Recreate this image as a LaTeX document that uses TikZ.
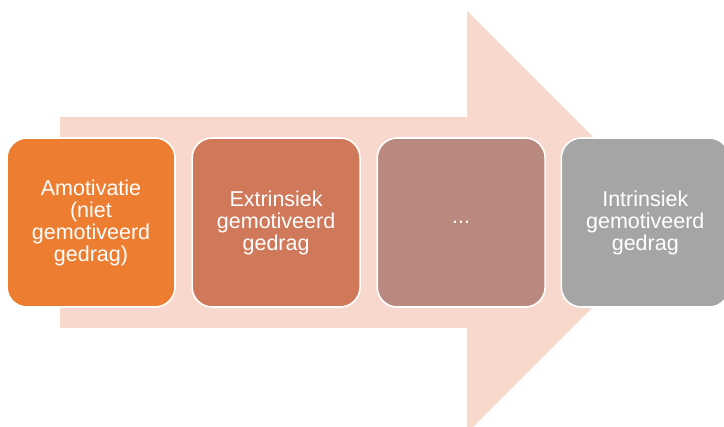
\documentclass[tikz,border=0pt]{standalone}
\usepackage{fontspec}
\setmainfont{Liberation Sans}
\usetikzlibrary{positioning}
\definecolor{pijl}{HTML}{F8D7CD}
\definecolor{fase1}{HTML}{ED7D31}
\definecolor{fase2}{HTML}{D0785A}
\definecolor{fase3}{HTML}{B9887F}
\definecolor{fase4}{HTML}{A5A5A5}
\begin{document}
\begin{tikzpicture}[x=1pt,y=-1pt,
 fase/.style={draw=white,line width=1.6pt,rounded corners=20pt,minimum width=168pt,minimum height=169pt,
  align=center,text=white,font=\fontsize{21.5}{22}\selectfont,inner sep=0pt}]
 \useasboundingbox (0,0) rectangle (724,427);
 \clip (0,0) rectangle (724,427);
 \fill[pijl] (60,117)--(467,117)--(467,11)--(678,222)--(467,433)--(467,328)--(60,328)--cycle;
 \node[fase,fill=fase1] (amot) at (91,222.5) {Amotivatie\\(niet\\gemotiveerd\\gedrag)};
 \node[fase,fill=fase2,right=15.5pt of amot] (extr) {Extrinsiek\\gemotiveerd\\gedrag};
 \node[fase,fill=fase3,right=15.5pt of extr] (tuss) {...};
 \node[fase,fill=fase4,right=14.5pt of tuss] (intr) {Intrinsiek\\gemotiveerd\\gedrag};
\end{tikzpicture}
\end{document}
